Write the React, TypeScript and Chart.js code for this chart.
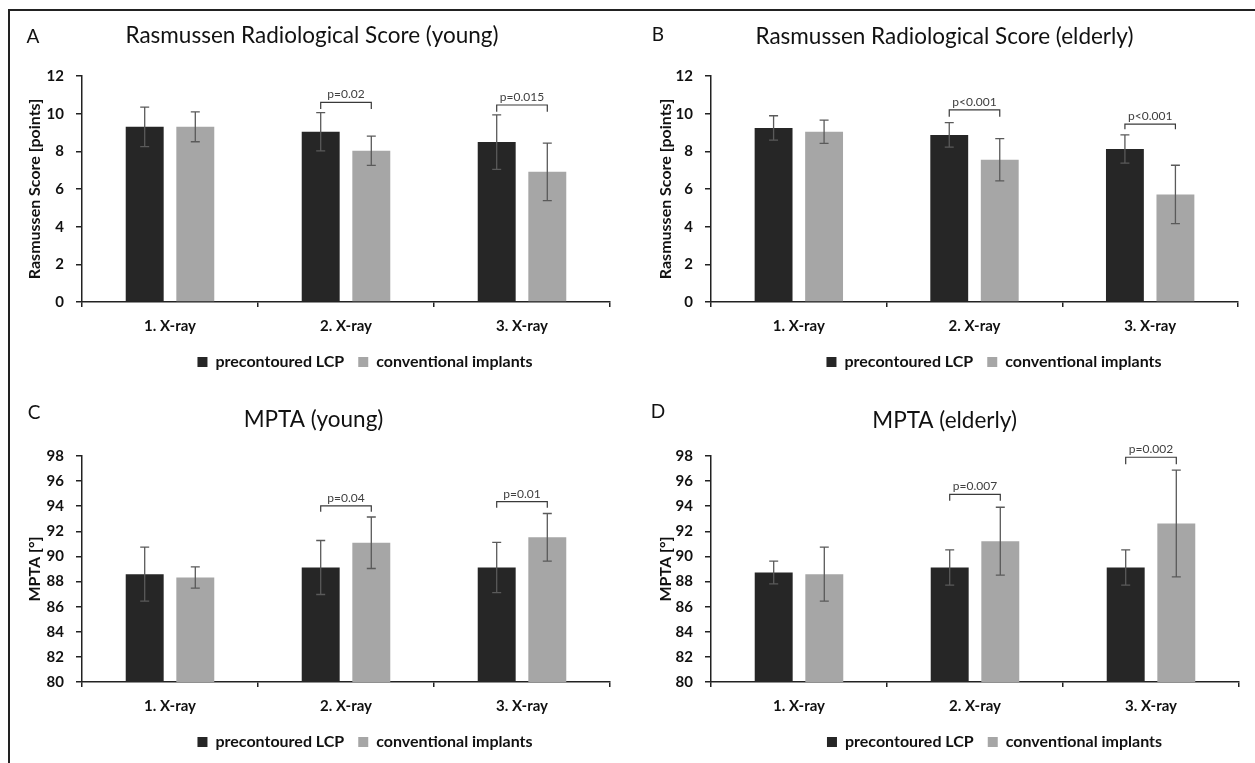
import React, { useEffect, useRef } from "react";
import { Chart, registerables } from "chart.js";
Chart.register(...registerables);

const FONT = "Lato, 'Open Sans', 'DejaVu Sans', sans-serif";
Chart.defaults.font.family = FONT;

// ---------- data ----------
const categories = ["1. X-ray", "2. X-ray", "3. X-ray"];
const seriesNames = ["precontoured LCP", "conventional implants"];
const rasTicks = [0, 2, 4, 6, 8, 10, 12];
const mptaTicks = [80, 82, 84, 86, 88, 90, 92, 94, 96, 98];

const rasYoungLcp = [9.3, 9.04, 8.49];
const rasYoungLcpSd = [1.05, 1.02, 1.45];
const rasYoungConv = [9.3, 8.03, 6.91];
const rasYoungConvSd = [0.79, 0.78, 1.53];
const rasYoungSigCat = [1, 2];
const rasYoungSigTop = [10.6, 10.46];
const rasYoungSigLeg = [10.25, 10.1];
const rasYoungSigText = ["p=0.02", "p=0.015"];

const rasOldLcp = [9.24, 8.87, 8.12];
const rasOldLcpSd = [0.65, 0.65, 0.75];
const rasOldConv = [9.04, 7.55, 5.71];
const rasOldConvSd = [0.62, 1.12, 1.55];
const rasOldSigCat = [1, 2];
const rasOldSigTop = [10.2, 9.45];
const rasOldSigLeg = [9.84, 9.17];
const rasOldSigText = ["p<0.001", "p<0.001"];

const mptaYoungLcp = [88.59, 89.12, 89.12];
const mptaYoungLcpSd = [2.15, 2.15, 2.0];
const mptaYoungConv = [88.32, 91.09, 91.52];
const mptaYoungConvSd = [0.85, 2.05, 1.9];
const mptaYoungSigCat = [1, 2];
const mptaYoungSigTop = [94.02, 94.36];
const mptaYoungSigLeg = [93.56, 93.88];
const mptaYoungSigText = ["p=0.04", "p=0.01"];

const mptaOldLcp = [88.72, 89.12, 89.12];
const mptaOldLcpSd = [0.9, 1.4, 1.4];
const mptaOldConv = [88.59, 91.22, 92.63];
const mptaOldConvSd = [2.15, 2.7, 4.25];
const mptaOldSigCat = [1, 2];
const mptaOldSigTop = [94.95, 97.9];
const mptaOldSigLeg = [94.44, 97.34];
const mptaOldSigText = ["p=0.007", "p=0.002"];

// ---------- styling / layout ----------
const DARK = "#262626";
const LIGHT = "#a6a6a6";

type Panel = {
  letter: string;
  title: string;
  yTitle: string;
  ticks: number[];
  lcp: number[];
  lcpSd: number[];
  conv: number[];
  convSd: number[];
  sigCat: number[];
  sigTop: number[];
  sigLeg: number[];
  sigText: string[];
  left: number;
  top: number;
  width: number;
  height: number;
  padTop: number;
  yW: number;
  rW: number;
  xH: number;
  yTitlePad: number;
  titleX: number;
  titleY: number;
  letterX: number;
  letterY: number;
};

const panels: Panel[] = [
  {
    letter: "A", title: "Rasmussen Radiological Score (young)", yTitle: "Rasmussen Score [points]",
    ticks: rasTicks, lcp: rasYoungLcp, lcpSd: rasYoungLcpSd, conv: rasYoungConv, convSd: rasYoungConvSd,
    sigCat: rasYoungSigCat, sigTop: rasYoungSigTop, sigLeg: rasYoungSigLeg, sigText: rasYoungSigText,
    left: 14, top: 12, width: 702, height: 368, padTop: 64, yW: 68, rW: 106, xH: 38,
    yTitlePad: 11, titleX: 298, titleY: 24, letterX: 19, letterY: 24.5,
  },
  {
    letter: "B", title: "Rasmussen Radiological Score (elderly)", yTitle: "Rasmussen Score [points]",
    ticks: rasTicks, lcp: rasOldLcp, lcpSd: rasOldLcpSd, conv: rasOldConv, convSd: rasOldConvSd,
    sigCat: rasOldSigCat, sigTop: rasOldSigTop, sigLeg: rasOldSigLeg, sigText: rasOldSigText,
    left: 643, top: 12, width: 702, height: 368, padTop: 64, yW: 68, rW: 107, xH: 38,
    yTitlePad: 13, titleX: 301.5, titleY: 25, letterX: 15, letterY: 23,
  },
  {
    letter: "C", title: "MPTA (young)", yTitle: "MPTA [°]",
    ticks: mptaTicks, lcp: mptaYoungLcp, lcpSd: mptaYoungLcpSd, conv: mptaYoungConv, convSd: mptaYoungConvSd,
    sigCat: mptaYoungSigCat, sigTop: mptaYoungSigTop, sigLeg: mptaYoungSigLeg, sigText: mptaYoungSigText,
    left: 14, top: 392, width: 702, height: 368, padTop: 64, yW: 68, rW: 106, xH: 38,
    yTitlePad: 11, titleX: 299.5, titleY: 28, letterX: 20, letterY: 21,
  },
  {
    letter: "D", title: "MPTA (elderly)", yTitle: "MPTA [°]",
    ticks: mptaTicks, lcp: mptaOldLcp, lcpSd: mptaOldLcpSd, conv: mptaOldConv, convSd: mptaOldConvSd,
    sigCat: mptaOldSigCat, sigTop: mptaOldSigTop, sigLeg: mptaOldSigLeg, sigText: mptaOldSigText,
    left: 643, top: 392, width: 703, height: 368, padTop: 64, yW: 68, rW: 107, xH: 38,
    yTitlePad: 13, titleX: 301.6, titleY: 28.5, letterX: 15, letterY: 20,
  },
];

function makeOverlay(p: Panel) {
  return {
    id: "overlay" + p.letter,
    afterDatasetsDraw(chart: any) {
      const ctx = chart.ctx as CanvasRenderingContext2D;
      const ys = chart.scales.y;
      const errs = [p.lcpSd, p.convSd];
      ctx.save();
      ctx.strokeStyle = "#5a5a5a";
      ctx.lineWidth = 1.3;
      errs.forEach((sd, di) => {
        const meta = chart.getDatasetMeta(di);
        const vals = chart.data.datasets[di].data as number[];
        meta.data.forEach((bar: any, i: number) => {
          const x = bar.x;
          const y1 = ys.getPixelForValue(vals[i] + sd[i]);
          const y2 = ys.getPixelForValue(vals[i] - sd[i]);
          ctx.beginPath();
          ctx.moveTo(x, y1); ctx.lineTo(x, y2);
          ctx.moveTo(x - 4.5, y1); ctx.lineTo(x + 4.5, y1);
          ctx.moveTo(x - 4.5, y2); ctx.lineTo(x + 4.5, y2);
          ctx.stroke();
        });
      });
      // significance brackets
      const m0 = chart.getDatasetMeta(0);
      const m1 = chart.getDatasetMeta(1);
      ctx.strokeStyle = "#3a3a3a";
      ctx.lineWidth = 1.2;
      ctx.fillStyle = "#404040";
      ctx.font = `12px ${FONT}`;
      ctx.textAlign = "center";
      ctx.textBaseline = "alphabetic";
      p.sigCat.forEach((c, k) => {
        const xa = m0.data[c].x;
        const xb = m1.data[c].x;
        const yt = ys.getPixelForValue(p.sigTop[k]);
        const yl = ys.getPixelForValue(p.sigLeg[k]);
        ctx.beginPath();
        ctx.moveTo(xa, yl); ctx.lineTo(xa, yt); ctx.lineTo(xb, yt); ctx.lineTo(xb, yl);
        ctx.stroke();
        ctx.fillText(p.sigText[k], (xa + xb) / 2, yt - 4);
      });
      ctx.restore();
    },
    afterDraw(chart: any) {
      const ctx = chart.ctx as CanvasRenderingContext2D;
      ctx.save();
      ctx.fillStyle = "#111";
      ctx.textBaseline = "middle";
      ctx.textAlign = "center";
      ctx.font = `22.5px ${FONT}`;
      ctx.fillText(p.title, p.titleX, p.titleY);
      ctx.font = `19px ${FONT}`;
      ctx.fillText(p.letter, p.letterX, p.letterY);
      ctx.restore();
    },
  };
}

function PanelChart({ p }: { p: Panel }) {
  const ref = useRef<HTMLCanvasElement | null>(null);
  useEffect(() => {
    if (!ref.current) return;
    const t = p.ticks;
    const chart = new Chart(ref.current, {
      type: "bar",
      data: {
        labels: categories,
        datasets: [
          { label: seriesNames[0], data: p.lcp, backgroundColor: DARK, borderWidth: 0 },
          { label: seriesNames[1], data: p.conv, backgroundColor: LIGHT, borderWidth: 0 },
        ],
      },
      plugins: [makeOverlay(p)],
      options: {
        animation: false,
        responsive: false,
        maintainAspectRatio: false,
        devicePixelRatio: 1,
        datasets: { bar: { categoryPercentage: 0.575, barPercentage: 0.75 } },
        layout: { padding: { top: p.padTop, left: 0, right: 0, bottom: 0 } },
        plugins: {
          tooltip: { enabled: false },
          title: { display: false },
          legend: {
            display: true,
            position: "bottom",
            labels: {
              boxWidth: 10,
              boxHeight: 10,
              padding: 14,
              color: "#111",
              font: { size: 16, weight: "bold", family: FONT },
            },
          },
        },
        scales: {
          x: {
            type: "category",
            offset: true,
            grid: { display: true, drawOnChartArea: false, drawTicks: true, tickLength: 5, offset: true, color: "#222", lineWidth: 1.5 },
            border: { display: true, color: "#222", width: 1.5 },
            ticks: { color: "#111", padding: 10, font: { size: 15, weight: "bold", family: FONT } },
            afterFit: (s: any) => { s.height = p.xH; },
          },
          y: {
            type: "linear",
            position: "left",
            min: t[0],
            max: t[t.length - 1],
            ticks: { stepSize: t[1] - t[0], color: "#111", padding: 12, font: { size: 15, weight: "bold", family: FONT } },
            grid: { display: true, drawOnChartArea: false, drawTicks: true, tickLength: 6, color: "#222", lineWidth: 1.5 },
            border: { display: true, color: "#222", width: 1.5 },
            title: {
              display: true,
              text: p.yTitle,
              color: "#111",
              padding: { top: p.yTitlePad, bottom: 0 },
              font: { size: 16, weight: "bold", family: FONT },
            },
            afterFit: (s: any) => { s.width = p.yW; },
          },
          pad: {
            type: "linear",
            position: "right",
            display: true,
            grid: { display: false, drawTicks: false },
            ticks: { display: false },
            border: { display: false },
            afterFit: (s: any) => { s.width = p.rW; },
          },
        },
      } as any,
    });
    return () => chart.destroy();
  }, [p]);
  return (
    <canvas
      ref={ref}
      width={p.width}
      height={p.height}
      style={{ position: "absolute", left: p.left, top: p.top, width: p.width, height: p.height }}
    />
  );
}

export default function App() {
  return (
    <div
      style={{
        position: "fixed",
        left: 0,
        top: 0,
        width: 1255,
        height: 763,
        overflow: "hidden",
        background: "#fff",
      }}
    >
      <div
        style={{
          position: "absolute",
          left: 7.5,
          top: 9,
          width: 1260,
          height: 780,
          borderTop: "2px solid #222",
          borderLeft: "2px solid #222",
          boxSizing: "border-box",
        }}
      />
      {panels.map((p) => (
        <PanelChart key={p.letter} p={p} />
      ))}
    </div>
  );
}
